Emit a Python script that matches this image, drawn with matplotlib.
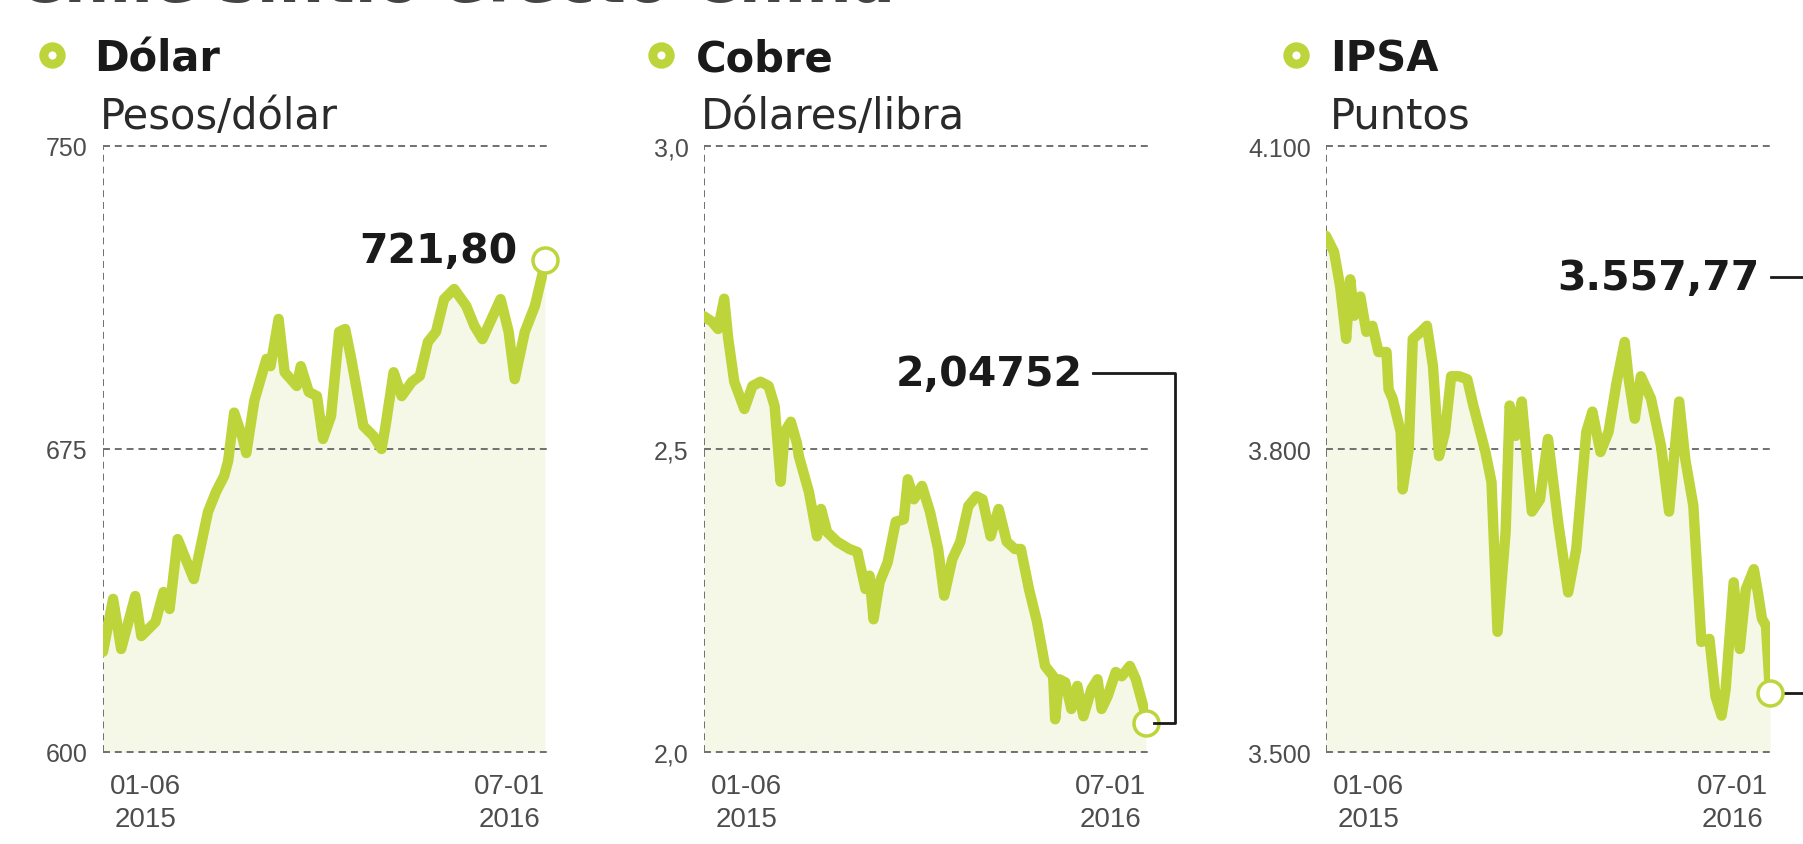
import matplotlib.pyplot as plt
from matplotlib.lines import Line2D

plt.rcParams['font.family'] = ['DejaVu Sans']
plt.rcParams['lines.scale_dashes'] = False

W, H = 1803, 845

verde = '#bdd53b'
relleno = '#f5f8e6'
gris = '#4d4d4d'
grilla = '#707070'
fuente_ejes = ['Liberation Sans Narrow', 'Liberation Sans', 'DejaVu Sans']

# --- datos (dias desde 01-06-2015) ---
dolar_dias = [0, 5, 9, 16, 19, 26, 30, 33, 37, 45, 52, 56, 60, 62, 65, 69, 71, 75, 81, 83,
              87, 90, 96, 98, 102, 106, 109, 113, 117, 120, 123, 129, 134, 138, 140, 144, 148, 153, 157, 161,
              165, 169, 174, 180, 184, 188, 191, 197, 201, 204, 209, 214, 218, 219]
dolar_val = [624.8, 637.9, 625.5, 638.6, 628.7, 632.2, 639.6, 635.4, 652.7, 642.8,
             659.4, 664.4, 668.3, 672.0, 684.0, 678.0, 674.0, 687.0, 697.3, 695.5,
             707.2, 694.0, 690.6, 695.5, 689.1, 688.1, 677.5, 683.2, 704.0, 704.7,
             697.3, 680.7, 678.2, 675.0, 680.7, 694.0, 688.1, 691.6, 693.1, 701.5,
             704.0, 712.1, 714.6, 710.4, 705.5, 702.2, 705.5, 712.1, 704.0, 692.3,
             704.0, 710.4, 718.8, 721.8]

cobre_dias = [0, 4, 7, 10, 12, 15, 20, 24, 28, 32, 35, 38, 40, 43, 46, 47, 52, 56, 58, 61,
              66, 72, 76, 80, 82, 84, 87, 91, 95, 99, 101, 104, 108, 112, 116, 119, 123, 127, 131, 135,
              138, 142, 146, 150, 154, 157, 161, 165, 169, 173, 174, 176, 179, 182, 185, 188, 192, 195, 197, 200,
              204, 207, 211, 214, 218, 219]
cobre_val = [2.719, 2.710, 2.698, 2.748, 2.682, 2.611, 2.566, 2.604, 2.611, 2.604,
             2.571, 2.446, 2.528, 2.545, 2.510, 2.488, 2.429, 2.356, 2.401, 2.363,
             2.347, 2.335, 2.330, 2.269, 2.291, 2.219, 2.280, 2.313, 2.380, 2.384,
             2.450, 2.417, 2.439, 2.396, 2.335, 2.258, 2.318, 2.347, 2.406, 2.422,
             2.417, 2.356, 2.401, 2.347, 2.335, 2.335, 2.269, 2.215, 2.142, 2.125,
             2.054, 2.120, 2.115, 2.071, 2.109, 2.059, 2.104, 2.120, 2.071, 2.092,
             2.132, 2.125, 2.142, 2.120, 2.071, 2.0475]

ipsa_dias = [0, 4, 7, 10, 12, 14, 17, 20, 23, 26, 30, 31, 33, 37, 38, 41, 43, 47, 50, 53,
             56, 59, 62, 66, 70, 73, 79, 82, 85, 89, 91, 94, 97, 102, 106, 110, 115, 120, 124, 129,
             132, 136, 140, 144, 148, 150, 153, 156, 161, 166, 170, 175, 178, 182, 186, 190, 193, 196, 198, 202,
             205, 208, 212, 214, 216, 218, 220]
ipsa_val = [4011, 3995, 3961, 3909, 3968, 3932, 3951, 3916, 3922, 3896,
            3896, 3859, 3850, 3817, 3760, 3800, 3909, 3916, 3922, 3882,
            3793, 3817, 3872, 3872, 3869, 3843, 3797, 3767, 3619, 3718,
            3843, 3813, 3847, 3738, 3750, 3810, 3728, 3658, 3701, 3817,
            3837, 3797, 3817, 3866, 3906, 3869, 3830, 3872, 3850, 3803,
            3738, 3847, 3790, 3744, 3609, 3612, 3555, 3536, 3562, 3668,
            3602, 3661, 3681, 3658, 3632, 3625, 3558]

dolar_ticks = [600, 675, 750]
dolar_labels = ['600', '675', '750']
cobre_ticks = [2.0, 2.5, 3.0]
cobre_labels = ['2,0', '2,5', '3,0']
ipsa_ticks = [3500, 3800, 4100]
ipsa_labels = ['3.500', '3.800', '4.100']

titulos = ['Dólar', 'Cobre', 'IPSA']
subtitulos = ['Pesos/dólar', 'Dólares/libra', 'Puntos']
ultimos = ['721,80', '2,04752', '3.557,77']
fechas = ['01-06\n2015', '07-01\n2016']


def fx(x):
    return x / W


def fy(y):
    return 1 - y / H


fig = plt.figure(figsize=(W / 100, H / 100), dpi=100)

# titulo, cortado arriba como en el original
fig.text(fx(17), fy(2), 'Chile sintió efecto China', fontsize=46, fontweight='bold',
         color='#444444', ha='left', va='baseline')


def panel(izq, dias, vals, ticks, labels):
    ax = fig.add_axes([fx(izq), fy(753), 444 / W, 606 / H])
    ax.fill_between(dias, vals, ticks[0], color=relleno, lw=0, zorder=1)
    for t in ticks:
        ax.axhline(t, color=grilla, lw=1.4, dashes=(5, 3.5), zorder=2, clip_on=False)
    ax.axvline(0, color=grilla, lw=1.4, dashes=(5, 3.5), zorder=2)
    ax.plot(dias, vals, color=verde, lw=7.5, solid_joinstyle='round',
            solid_capstyle='round', zorder=3)
    ax.plot(dias[-1], vals[-1], 'o', ms=18, mfc='white', mec=verde, mew=2.5,
            clip_on=False, zorder=5)
    ax.set_xlim(0, 220)
    ax.set_ylim(ticks[0], ticks[-1])
    ax.set_yticks(ticks)
    ax.set_yticklabels(labels, family=fuente_ejes)
    ax.set_xticks([])
    ax.tick_params(axis='y', length=0, pad=11, labelsize=18, labelcolor=gris)
    for s in ax.spines.values():
        s.set_visible(False)
    ax.set_facecolor('none')
    ax.text(0.015, -0.035, fechas[0], transform=ax.transAxes, ha='left', va='top',
            multialignment='center', fontsize=20, color=gris, linespacing=1.35,
            family=fuente_ejes)
    ax.text(0.995, -0.035, fechas[1], transform=ax.transAxes, ha='right', va='top',
            multialignment='center', fontsize=20, color=gris, linespacing=1.35,
            family=fuente_ejes)
    return ax


ax1 = panel(103, dolar_dias, dolar_val, dolar_ticks, dolar_labels)
ax2 = panel(704, cobre_dias, cobre_val, cobre_ticks, cobre_labels)
ax3 = panel(1326, ipsa_dias, ipsa_val, ipsa_ticks, ipsa_labels)

# encabezados
aros = [(52, 56), (661, 56), (1296, 56)]
x_tit = [94, 696, 1330]
x_sub = [100, 701, 1330]
for i in range(3):
    fig.add_artist(Line2D([fx(aros[i][0])], [fy(aros[i][1])], marker='o', ms=12.5,
                          mfc='white', mec=verde, mew=6.5, transform=fig.transFigure))
    fig.text(fx(x_tit[i]), fy(72), titulos[i], fontsize=30, fontweight='bold',
             color='#1a1a1a', ha='left', va='baseline')
    fig.text(fx(x_sub[i]), fy(129), subtitulos[i], fontsize=30, color='#2a2a2a',
             ha='left', va='baseline')


def en_px(ax, x, y):
    # punto de datos -> pixeles (origen arriba)
    px, py = ax.transData.transform((x, y))
    return px, H - py


# valor final dolar
fig.text(fx(518), fy(252), ultimos[0], fontsize=29.5, fontweight='bold', color='#1a1a1a',
         ha='right', va='center')

# valor final cobre con conector
cx, cy = en_px(ax2, cobre_dias[-1], cobre_val[-1])
fig.text(fx(1083), fy(375), ultimos[1], fontsize=29.5, fontweight='bold', color='#1a1a1a',
         ha='right', va='center')
fig.add_artist(Line2D([fx(1093), fx(1175), fx(1175), fx(cx + 8)],
                      [fy(374), fy(374), fy(cy), fy(cy)], color='#1a1a1a', lw=2,
                      transform=fig.transFigure))

# valor final ipsa con conector (sale por la derecha)
ix, iy = en_px(ax3, ipsa_dias[-1], ipsa_val[-1])
fig.text(fx(1760), fy(279), ultimos[2], fontsize=29.5, fontweight='bold', color='#1a1a1a',
         ha='right', va='center')
fig.add_artist(Line2D([fx(1771), fx(1830), fx(1830), fx(ix + 12)],
                      [fy(278), fy(278), fy(iy), fy(iy)], color='#1a1a1a', lw=2,
                      transform=fig.transFigure, zorder=0))

fig.savefig('out.png', dpi=100)
